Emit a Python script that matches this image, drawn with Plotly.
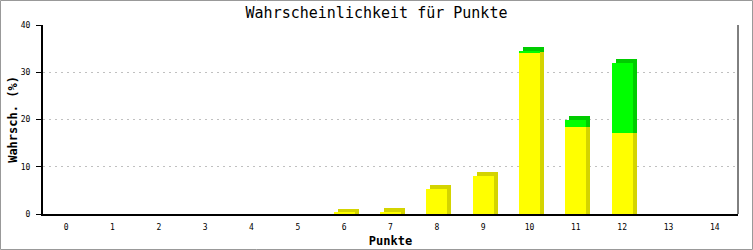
import plotly.graph_objects as go

categories = list(range(15))
yellow = [0, 0, 0, 0, 0, 0, 0.3, 0.5, 5.3, 8.0, 34.2, 18.5, 17.1, 0, 0]
green = [0, 0, 0, 0, 0, 0, 0, 0, 0, 0, 0.4, 1.3, 14.9, 0, 0]
tick_labels = [str(c) for c in categories]

W, H = 753, 250
ml, mr, mt, mb = 43, 15, 25, 36
pw, ph = W - ml - mr, H - mt - mb

bar_w = 0.45
dx = 4 / (pw / 15)          # 3D depth in x units
dy = 4 / (ph / 40)          # 3D depth in y units

YEL, YEL_D = "#ffff00", "#d4d400"
GRN, GRN_D = "#00ff00", "#00cc00"

fig = go.Figure()

# shadows (3D depth)
ysh = [v + dy if v > 0 else 0 for v in yellow]
fig.add_trace(go.Bar(x=categories, y=ysh, base=0, width=bar_w, offset=-bar_w / 2 + dx,
                     marker=dict(color=YEL_D, line=dict(width=0)), hoverinfo="skip", showlegend=False))
gsh = [g + dy if g > 0 else 0 for g in green]
fig.add_trace(go.Bar(x=categories, y=gsh, base=yellow, width=bar_w, offset=-bar_w / 2 + dx,
                     marker=dict(color=GRN_D, line=dict(width=0)), hoverinfo="skip", showlegend=False))
# fronts
fig.add_trace(go.Bar(x=categories, y=yellow, base=0, width=bar_w, offset=-bar_w / 2,
                     marker=dict(color=YEL, line=dict(width=0)), showlegend=False))
fig.add_trace(go.Bar(x=categories, y=green, base=yellow, width=bar_w, offset=-bar_w / 2,
                     marker=dict(color=GRN, line=dict(width=0)), showlegend=False))

mono = "DejaVu Sans Mono"
fig.update_layout(
    width=W, height=H, margin=dict(l=ml, r=mr, t=mt, b=mb, autoexpand=False),
    barmode="overlay", bargap=0,
    paper_bgcolor="white", plot_bgcolor="white",
    title=dict(text="Wahrscheinlichkeit für Punkte", x=0.5, xanchor="center", y=1 - 13 / H, yanchor="middle",
               font=dict(family=mono, size=15, color="black")),
    xaxis=dict(range=[-0.5, 14.5], tickmode="array", tickvals=categories, ticktext=tick_labels,
               showgrid=False, zeroline=False, showline=True, linecolor="black", linewidth=2,
               ticks="", tickfont=dict(family=mono, size=8, color="black"), automargin=False,
               ticklabelstandoff=4,
               title=dict(text="<b>Punkte</b>", font=dict(family=mono, size=12, color="black"), standoff=6),
               mirror=False),
    yaxis=dict(range=[0, 40], tickvals=[0, 10, 20, 30, 40], showgrid=True, gridcolor="#c0c0c0",
               griddash="2px,4px", gridwidth=1, zeroline=False, showline=True, linecolor="black", linewidth=2,
               ticks="outside", ticklen=5, tickcolor="black", tickwidth=1, automargin=False,
               ticklabelstandoff=4,
               tickfont=dict(family=mono, size=8, color="black"),
               title=dict(text="<b>Wahrsch. (%)</b>", font=dict(family=mono, size=12, color="black"), standoff=1)),
    shapes=[
        dict(type="line", xref="paper", yref="paper", x0=1, x1=1, y0=0, y1=1,
             line=dict(color="black", width=1)),
        dict(type="rect", xref="paper", yref="paper",
             x0=(-ml + 0.5) / pw, x1=(pw + mr - 0.5) / pw,
             y0=(-mb + 0.5) / ph, y1=(ph + mt - 0.5) / ph,
             line=dict(color="#999999", width=1), fillcolor="rgba(0,0,0,0)", layer="below"),
    ],
)

fig.write_html("out.html")
